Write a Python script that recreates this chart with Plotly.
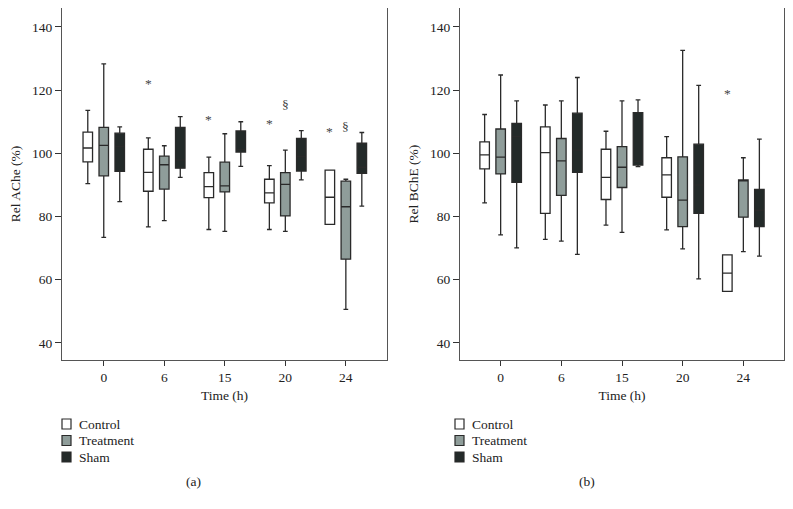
import plotly.graph_objects as go

times = ["0", "6", "15", "20", "24"]
groups = ["Control", "Treatment", "Sham"]
fills = ["#ffffff", "#8f9d9a", "#232a29"]
line_col = "#2a2a2a"

# Panel (a): Rel AChe (%)
a_q1 = {"Control": [97.3, 88.0, 86.0, 84.3, 77.5],
        "Treatment": [92.9, 88.7, 87.8, 80.2, 66.5],
        "Sham": [94.3, 95.3, 100.4, 94.4, 93.7]}
a_med = {"Control": [101.7, 94.0, 89.5, 87.5, 86.1],
         "Treatment": [102.5, 96.4, 89.7, 90.2, 83.1],
         "Sham": [102.2, 97.9, 101.2, 99.0, 95.6]}
a_q3 = {"Control": [106.7, 101.3, 93.9, 91.8, 94.7],
        "Treatment": [108.2, 99.1, 97.2, 93.9, 91.2],
        "Sham": [106.4, 108.2, 107.1, 104.7, 103.2]}
a_lo = {"Control": [90.4, 76.7, 75.9, 75.9, 77.5],
        "Treatment": [73.4, 78.7, 75.3, 75.3, 50.6],
        "Sham": [84.7, 92.4, 95.9, 91.6, 83.3]}
a_hi = {"Control": [113.6, 104.9, 98.8, 96.1, 94.7],
        "Treatment": [128.3, 102.4, 106.2, 101.0, 91.8],
        "Sham": [108.4, 111.6, 110.0, 107.2, 106.6]}

# Panel (b): Rel BChE (%)
b_q1 = {"Control": [95.1, 81.0, 85.4, 86.1, 56.3],
        "Treatment": [93.5, 86.7, 89.2, 76.8, 79.8],
        "Sham": [90.8, 94.0, 96.3, 81.0, 76.8]}
b_med = {"Control": [99.5, 100.2, 92.4, 93.2, 62.1],
         "Treatment": [98.8, 97.6, 95.6, 85.2, 91.4],
         "Sham": [105.3, 101.0, 97.5, 90.0, 82.0]}
b_q3 = {"Control": [103.6, 108.4, 101.3, 98.6, 67.9],
        "Treatment": [107.7, 104.7, 102.1, 98.9, 91.6],
        "Sham": [109.5, 112.7, 112.9, 102.9, 88.6]}
b_lo = {"Control": [84.3, 72.8, 77.3, 75.8, 56.3],
        "Treatment": [74.2, 72.2, 75.0, 69.8, 68.9],
        "Sham": [70.1, 68.0, 95.8, 60.3, 67.5]}
b_hi = {"Control": [112.3, 115.3, 107.0, 105.3, 67.9],
        "Treatment": [124.8, 116.6, 116.6, 132.6, 98.6],
        "Sham": [116.6, 124.0, 116.9, 121.5, 104.5]}

# significance marks: (panel, time, group, y, symbol)
marks = [("a", "6", "Control", 123.2, "*"),
         ("a", "15", "Control", 111.7, "*"),
         ("a", "20", "Control", 110.5, "*"),
         ("a", "20", "Treatment", 115.6, "§"),
         ("a", "24", "Control", 107.9, "*"),
         ("a", "24", "Treatment", 108.4, "§"),
         ("b", "24", "Control", 120.0, "*")]

FONT = "Liberation Serif"
FS = 13.5
# page has an 8px body margin; figure pixel = page pixel - 8
OFF = 8
W, H = 793 - OFF, 509 - OFF


def px(v):
    return (v - OFF) / W


def py(v):
    return 1 - (v - OFF) / H


fig = go.Figure()

panels = [("a", "x", "y", a_q1, a_med, a_q3, a_lo, a_hi),
          ("b", "x2", "y2", b_q1, b_med, b_q3, b_lo, b_hi)]
for name, xa, ya, q1, med, q3, lo, hi in panels:
    for g, fc in zip(groups, fills):
        fig.add_trace(go.Box(
            x=times, q1=q1[g], median=med[g], q3=q3[g],
            lowerfence=lo[g], upperfence=hi[g],
            name=g, offsetgroup=g, xaxis=xa, yaxis=ya,
            fillcolor=fc, line=dict(color=line_col, width=1.3),
            whiskerwidth=0.5, boxpoints=False, showlegend=False,
            hoverinfo="skip"))

xa_dom = [px(62), px(387)]
xb_dom = [px(460), px(784)]
y_dom = [py(360), py(8)]

axis_common = dict(showline=True, mirror=True, linecolor="#555555", linewidth=1,
                   showgrid=False, zeroline=False, ticks="outside",
                   tickcolor="#333333", tickfont=dict(family=FONT, size=FS, color="#222"))

fig.update_layout(
    width=W, height=H, margin=dict(l=0, r=0, t=0, b=0),
    paper_bgcolor="white", plot_bgcolor="white",
    boxmode="group", boxgap=0.208, boxgroupgap=0.405,
    showlegend=False,
    font=dict(family=FONT, size=FS, color="#222"),
    xaxis=dict(domain=xa_dom, anchor="y", type="category", range=[-0.69, 4.68],
               ticklen=5, title=dict(text="Time (h)", standoff=6,
                                      font=dict(family=FONT, size=FS)), **axis_common),
    yaxis=dict(domain=y_dom, anchor="x", range=[34.6, 146], tickvals=[40, 60, 80, 100, 120, 140],
               ticklen=6, title=dict(text="Rel AChe (%)", standoff=8,
                                      font=dict(family=FONT, size=FS)), **axis_common),
    xaxis2=dict(domain=xb_dom, anchor="y2", type="category", range=[-0.67, 4.67],
                ticklen=5, title=dict(text="Time (h)", standoff=6,
                                       font=dict(family=FONT, size=FS)), **axis_common),
    yaxis2=dict(domain=y_dom, anchor="x2", range=[34.6, 146], tickvals=[40, 60, 80, 100, 120, 140],
                ticklen=6, title=dict(text="Rel BChE (%)", standoff=8,
                                       font=dict(family=FONT, size=FS)), **axis_common),
)

# significance annotations (category index on x, pixel offset per group)
shift = {"Control": -16, "Treatment": 0, "Sham": 16}
for p, t, g, yv, s in marks:
    xr, yr = ("x", "y") if p == "a" else ("x2", "y2")
    fig.add_annotation(x=times.index(t), y=yv, xref=xr, yref=yr, text=s, showarrow=False,
                       xshift=shift[g], yshift=-3 if s == "*" else 0,
                       font=dict(family=FONT, size=FS, color="#444"))

# custom legends below each panel
legend_x = [62, 455]
legend_y = [424, 440.5, 457]
for lx in legend_x:
    for g, fc, ly in zip(groups, fills, legend_y):
        fig.add_shape(type="rect", xref="paper", yref="paper",
                      x0=px(lx), x1=px(lx + 9),
                      y0=py(ly + 5), y1=py(ly - 5),
                      fillcolor=fc, line=dict(color=line_col, width=1.2))
        fig.add_annotation(x=px(lx + 15), y=py(ly), xref="paper", yref="paper",
                           text=g, showarrow=False, xanchor="left", yanchor="middle",
                           font=dict(family=FONT, size=FS, color="#222"))

for lbl, cx in [("(a)", 193), ("(b)", 587)]:
    fig.add_annotation(x=px(cx), y=py(481), xref="paper", yref="paper",
                       text=lbl, showarrow=False, xanchor="center", yanchor="middle",
                       font=dict(family=FONT, size=FS, color="#222"))

fig.write_html("out.html")
